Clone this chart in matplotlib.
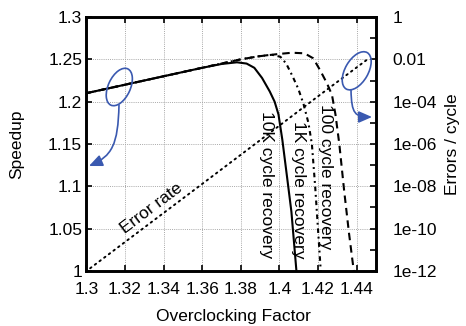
import matplotlib
matplotlib.use("Agg")
import matplotlib.pyplot as plt
from matplotlib.patches import Ellipse, FancyArrowPatch
from matplotlib.path import Path
from matplotlib.transforms import IdentityTransform
from matplotlib.ticker import FixedLocator, NullFormatter

plt.rcParams['font.family'] = ['Liberation Sans', 'DejaVu Sans']

# ---- data ----
x_10k = [1.300, 1.320, 1.340, 1.360, 1.370, 1.378, 1.383, 1.387, 1.391, 1.395, 1.3975, 1.3995, 1.4015, 1.4040, 1.4062, 1.4088]
y_10k = [1.210, 1.220, 1.230, 1.240, 1.2445, 1.2465, 1.245, 1.240, 1.228, 1.212, 1.200, 1.185, 1.155, 1.110, 1.070, 1.000]

x_1k = [1.300, 1.320, 1.340, 1.360, 1.372, 1.380, 1.389, 1.396, 1.4005, 1.4035, 1.4068, 1.4098, 1.4125, 1.4150, 1.4168, 1.4185, 1.4214]
y_1k = [1.210, 1.220, 1.230, 1.240, 1.246, 1.250, 1.2535, 1.2555, 1.2530, 1.2450, 1.2300, 1.2150, 1.197, 1.175, 1.150, 1.100, 1.000]

x_100 = [1.300, 1.320, 1.340, 1.360, 1.372, 1.380, 1.389, 1.3995, 1.4065, 1.413, 1.4175, 1.421, 1.4246, 1.4272, 1.4290, 1.4310, 1.4335, 1.4360, 1.4385]
y_100 = [1.210, 1.220, 1.230, 1.240, 1.246, 1.250, 1.2535, 1.2563, 1.2578, 1.2571, 1.2512, 1.2374, 1.2217, 1.2080, 1.185, 1.150, 1.095, 1.045, 1.000]

x_err = [1.302, 1.36, 1.40, 1.42, 1.4462]
y_err = [1.35e-12, 1.3e-8, 7.4e-6, 1.8e-4, 1.1e-2]

x_ticks = [1.30, 1.32, 1.34, 1.36, 1.38, 1.40, 1.42, 1.44]
x_ticklabels = ['1.3', '1.32', '1.34', '1.36', '1.38', '1.4', '1.42', '1.44']
y_ticks = [1.0, 1.05, 1.1, 1.15, 1.2, 1.25, 1.3]
y_ticklabels = ['1', '1.05', '1.1', '1.15', '1.2', '1.25', '1.3']
r_ticks = [1, 1e-2, 1e-4, 1e-6, 1e-8, 1e-10, 1e-12]
r_ticklabels = ['1', '0.01', '1e-04', '1e-06', '1e-08', '1e-10', '1e-12']
r_minor = [1e-1, 1e-3, 1e-5, 1e-7, 1e-9, 1e-11]

W, H = 466, 326
fig = plt.figure(figsize=(W / 100, H / 100), dpi=100)
L, R, B, T = 86.3, 376, 271, 17
ax = fig.add_axes([L / W, (H - B) / H, (R - L) / W, (B - T) / H])

FS = 12.5
ax.plot(x_100, y_100, color='black', lw=1.5, linestyle=(0, (3.6, 2.4)), zorder=3)
ax.plot(x_1k, y_1k, color='black', lw=1.5, linestyle=(0, (2.2, 1.8, 0.9, 1.8)), zorder=3)
ax.plot(x_10k, y_10k, color='black', lw=1.5, linestyle='-', zorder=4)

ax.set_xlim(1.30, 1.45)
ax.set_ylim(1.0, 1.3)
ax.set_xticks(x_ticks)
ax.set_xticklabels(x_ticklabels)
ax.set_yticks(y_ticks)
ax.set_yticklabels(y_ticklabels)
ax.grid(True, color='#a8a8a8', linestyle=(0, (1, 1.2)), linewidth=0.7)
ax.tick_params(axis='both', direction='in', length=4, width=1.2, labelsize=FS)
ax.tick_params(axis='x', top=True, pad=8)
ax.tick_params(axis='y', right=False, pad=3)
for s in ax.spines.values():
    s.set_linewidth(1.9)
ax.set_xlabel('Overclocking Factor', fontsize=FS)
ax.set_ylabel('Speedup', fontsize=FS)
ax.xaxis.label.set_va('center')
ax.yaxis.label.set_va('center')
ax.xaxis.set_label_coords((233 - L) / (R - L), -(316 - B) / (B - T))
ax.yaxis.set_label_coords(-(86.3 - 17) / (R - L), 0.5)

ax2 = ax.twinx()
ax2.set_yscale('log')
ax2.set_ylim(1e-12, 1)
ax2.plot(x_err, y_err, color='black', lw=1.4, linestyle=(0, (0.8, 2.2)), dash_capstyle='round', zorder=3)
ax2.yaxis.set_major_locator(FixedLocator(r_ticks))
ax2.set_yticklabels(r_ticklabels)
ax2.yaxis.set_minor_locator(FixedLocator(r_minor))
ax2.yaxis.set_minor_formatter(NullFormatter())
ax2.tick_params(axis='y', which='both', direction='in', length=4, width=1.2, labelsize=FS, pad=12)
ax2.set_ylabel('Errors / cycle', fontsize=FS)
ax2.yaxis.label.set_va('center')
ax2.yaxis.set_label_coords(1 + (452 - R) / (R - L), 0.5)
for s in ax2.spines.values():
    s.set_linewidth(1.9)

# labels on curves
ax.text(1.3339, 1.074, 'Error rate', rotation=37, fontsize=FS, ha='center', va='center', rotation_mode='anchor')
ax.text(1.3932, 1.1016, '10K cycle recovery', rotation=-90, fontsize=FS, ha='center', va='center')
ax.text(1.4098, 1.0957, '1K cycle recovery', rotation=-90, fontsize=FS, ha='center', va='center')
ax.text(1.4241, 1.111, '100 cycle recovery', rotation=-90, fontsize=FS, ha='center', va='center')

# blue callouts (pixel space)
blue = '#3a59b0'
idt = IdentityTransform()
e1 = Ellipse((119.3, H - 87), 40, 22, angle=65, fill=False, edgecolor=blue, lw=1.2, transform=idt)
e2 = Ellipse((356.7, H - 70.8), 42, 23, angle=60, fill=False, edgecolor=blue, lw=1.2, transform=idt)
fig.add_artist(e1)
fig.add_artist(e2)
p1 = Path([(119.0, H - 105), (118.0, H - 145), (112, H - 156), (89, H - 166)],
          [Path.MOVETO, Path.CURVE4, Path.CURVE4, Path.CURVE4])
p2 = Path([(351.0, H - 90), (351.5, H - 114), (355, H - 117), (372, H - 117)],
          [Path.MOVETO, Path.CURVE4, Path.CURVE4, Path.CURVE4])
for p in (p1, p2):
    a = FancyArrowPatch(path=p, arrowstyle='-|>,head_length=0.8,head_width=0.35',
                        mutation_scale=10, color=blue, lw=1.2, transform=idt)
    fig.add_artist(a)

fig.savefig('out.png', dpi=100)
